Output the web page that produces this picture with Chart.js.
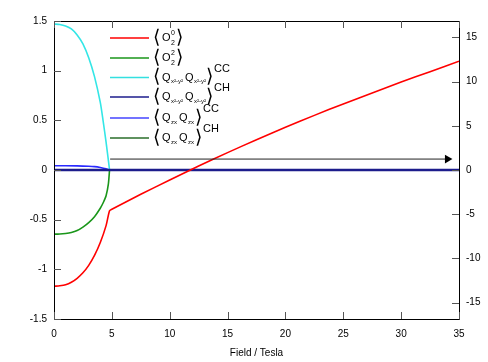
<!DOCTYPE html>
<html><head><meta charset="utf-8">
<script src="https://cdn.jsdelivr.net/npm/chart.js@4/dist/chart.umd.min.js"></script>
<style>html,body{margin:0;padding:0;background:#fff}#wrap{width:488px;height:362px;position:relative}</style>
</head><body><div id="wrap"><canvas id="c" width="488" height="362"></canvas></div>
<script>
// ---- data ----
const redField = [0,0.5,1,1.5,2,2.5,3,3.5,4,4.5,4.8,5,7.5,10,12.5,15,17.5,20,22.5,25,27.5,30,32.5,35];
const redVals  = [-1.17,-1.165,-1.155,-1.13,-1.09,-1.035,-0.96,-0.86,-0.73,-0.56,-0.41,-0.395,-0.245,-0.10,0.04,0.175,0.305,0.43,0.55,0.665,0.775,0.885,0.99,1.095];
const greenField = [0,0.5,1,1.5,2,2.5,3,3.5,4,4.25,4.5,4.7,4.8];
const greenVals  = [-0.645,-0.645,-0.64,-0.63,-0.61,-0.575,-0.53,-0.47,-0.385,-0.33,-0.26,-0.14,0];
const cyanField = [0,0.5,1,1.5,2,2.5,3,3.5,4,4.25,4.5,4.75,4.8];
const cyanVals  = [1.47,1.465,1.45,1.42,1.36,1.27,1.13,0.94,0.68,0.49,0.28,0.05,0];
const blueField = [0,1,2,3,3.5,4,4.5,4.8,35];
const blueVals  = [0.043,0.043,0.042,0.038,0.034,0.025,0.012,0,0];
const navyField = [0,35];
const navyVals  = [0,0];
const dkGreenField = [0,35];
const dkGreenVals  = [0,0];
const arrowField = [4.85,34.0];
const arrowVals  = [0.11,0.11];
const xTicks = [0,5,10,15,20,25,30,35];
const yTicks = [-1.5,-1,-0.5,0,0.5,1,1.5];
const y2Ticks = [-15,-10,-5,0,5,10,15];
const xTitle = 'Field / Tesla';

function pts(xs, ys){ return xs.map((x,i)=>({x:x,y:ys[i]})); }

const FONT = '"Liberation Sans", Arial, Helvetica, sans-serif';

// legend rows: line colour + pieces of label text
const legendRows = [
  {color:'#ff0000', parts:[['O',0,0,11],['0',9,-5,7],['2',9,5,7]], close:16, sup:null},
  {color:'#1a961a', parts:[['O',0,0,11],['2',9,-5,7],['2',9,5,7]], close:16, sup:null},
  {color:'#33e0e0', parts:[['Q',0,0,11],['x²-y²',9,4,6],['Q',23,0,11],['x²-y²',32,4,6]], close:46, sup:'CC'},
  {color:'#1c1c8c', parts:[['Q',0,0,11],['x²-y²',9,4,6],['Q',23,0,11],['x²-y²',32,4,6]], close:46, sup:'CH'},
  {color:'#4444ff', parts:[['Q',0,0,11],['zx',9,4,6],['Q',17,0,11],['zx',26,4,6]], close:35, sup:'CC'},
  {color:'#2a6e2a', parts:[['Q',0,0,11],['zx',9,4,6],['Q',17,0,11],['zx',26,4,6]], close:35, sup:'CH'}
];

const framePlugin = {
  id:'frame',
  afterDraw(chart){
    const {ctx, chartArea:a, scales} = chart;
    ctx.save();
    ctx.strokeStyle = '#000'; ctx.lineWidth = 1;
    ctx.beginPath();
    ctx.rect(Math.round(a.left)+0.5, Math.round(a.top)+0.5, Math.round(a.right-a.left), Math.round(a.bottom-a.top));
    ctx.stroke();
    const L = 7;
    ctx.strokeStyle = '#555';
    ctx.beginPath();
    xTicks.forEach(v=>{
      const x = Math.round(scales.x.getPixelForValue(v))+0.5;
      ctx.moveTo(x, a.bottom); ctx.lineTo(x, a.bottom-L);
      ctx.moveTo(x, a.top); ctx.lineTo(x, a.top+L);
    });
    yTicks.forEach(v=>{
      const y = Math.round(scales.y.getPixelForValue(v))+0.5;
      ctx.moveTo(a.left, y); ctx.lineTo(a.left+L, y);
    });
    y2Ticks.forEach(v=>{
      const y = Math.round(scales.y2.getPixelForValue(v))+0.5;
      ctx.moveTo(a.right, y); ctx.lineTo(a.right-L, y);
    });
    ctx.stroke();
    // legend
    const x0 = 110, x1 = 149, tx = 155;
    const rowY = [38,58,77.5,97,118,138];
    legendRows.forEach((r,i)=>{
      const y = rowY[i];
      ctx.strokeStyle = r.color; ctx.lineWidth = 1.5;
      ctx.beginPath(); ctx.moveTo(x0,y); ctx.lineTo(x1,y); ctx.stroke();
      ctx.fillStyle = '#000';
      ctx.textBaseline = 'middle'; ctx.textAlign = 'left';
      ctx.font = '19px "DejaVu Sans", sans-serif';
      ctx.fillText('\u27E8', tx-2, y);
      const bx = tx + 7;
      r.parts.forEach(p=>{
        ctx.font = p[3]+'px '+FONT;
        ctx.fillText(p[0], bx+p[1], y+p[2]);
      });
      ctx.font = '19px "DejaVu Sans", sans-serif';
      ctx.fillText('\u27E9', bx + r.close - 2, y);
      if (r.sup){
        ctx.font = '11px '+FONT;
        ctx.fillText(r.sup, bx + r.close + 6, y-9);
      }
    });
    ctx.restore();
  }
};

const ds = (label, xs, ys, color, w, order) => ({
  label, data: pts(xs, ys), borderColor: color, backgroundColor: color,
  borderWidth: w, pointRadius: 0, tension: 0.25, fill:false, order: order, yAxisID:'y'
});

const fmt = v => String(v);

new Chart(document.getElementById('c'), {
  type:'line',
  data:{ datasets:[
    ds('O20', redField, redVals, '#ff0000', 1.6, 1),
    ds('O22', greenField, greenVals, '#1a961a', 1.6, 3),
    ds('QxyCC', cyanField, cyanVals, '#33e6e6', 1.6, 4),
    ds('QxyCH', navyField, navyVals, '#1c1c8c', 2.6, 2),
    ds('QzxCC', blueField, blueVals, '#2a2aff', 1.6, 5),
    ds('QzxCH', dkGreenField, dkGreenVals, '#2a6e2a', 1, 7),
    {label:'arrow', data: pts(arrowField, arrowVals), borderColor:'#222', backgroundColor:'#000',
     borderWidth:1, pointRadius:[0,5], pointStyle:'triangle', rotation:90, pointBorderWidth:0,
     order:0, yAxisID:'y', tension:0}
  ]},
  options:{
    responsive:false, animation:false, devicePixelRatio:1,
    layout:{padding:{top:21,left:0,right:0,bottom:0}},
    plugins:{legend:{display:false}, tooltip:{enabled:false}},
    scales:{
      x:{type:'linear', min:0, max:35,
         afterBuildTicks:s=>{s.ticks = xTicks.map(v=>({value:v}));},
         afterFit:s=>{s.height = 43;},
         grid:{display:false, drawTicks:false}, border:{display:false},
         ticks:{padding:9, color:'#000', font:{family:FONT, size:10}, maxRotation:0, callback:fmt},
         title:{display:true, text:xTitle, color:'#000', font:{family:FONT, size:10}, padding:{top:0,bottom:3}}},
      y:{type:'linear', position:'left', min:-1.5, max:1.5,
         afterBuildTicks:s=>{s.ticks = yTicks.map(v=>({value:v}));},
         afterFit:s=>{s.width = 54;},
         grid:{display:false, drawTicks:false}, border:{display:false},
         ticks:{padding:7, color:'#000', font:{family:FONT, size:10}, callback:fmt}},
      y2:{type:'linear', position:'right', min:-16.85, max:16.85,
         afterBuildTicks:s=>{s.ticks = y2Ticks.map(v=>({value:v}));},
         afterFit:s=>{s.width = 29;},
         grid:{display:false, drawTicks:false}, border:{display:false},
         ticks:{padding:7, color:'#000', font:{family:FONT, size:10}, callback:fmt}}
    }
  },
  plugins:[framePlugin]
});
</script></body></html>
